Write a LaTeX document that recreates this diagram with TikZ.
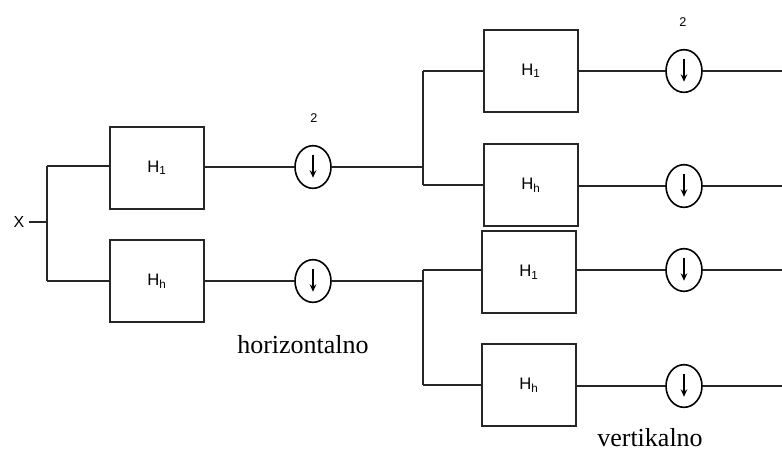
\documentclass[tikz,border=0pt]{standalone}
\usepackage{fontspec}
\setmainfont{Liberation Serif}
\newfontfamily\labelfont{Liberation Sans}
\usetikzlibrary{shapes.geometric,arrows.meta}
\begin{document}
\begin{tikzpicture}[x=0.75pt,y=-0.75pt,
  wire/.style={line width=1.4pt, draw=black!85},
  filt/.style={draw=black!85, line width=1.4pt, minimum width=70.5pt,
    minimum height=61.5pt, inner sep=0pt,
    font=\labelfont\fontsize{12.5}{14}\selectfont},
  down/.style={ellipse, draw=black, line width=1.2pt, minimum width=27pt,
    minimum height=32pt, inner sep=0pt,
    path picture={\draw[line width=1.4pt,-{Stealth[length=5.5pt,width=5pt]}]
      ([yshift=9pt]path picture bounding box.center) --
      ([yshift=-8pt]path picture bounding box.center);}},
  small/.style={font=\labelfont\fontsize{9.5}{11}\selectfont, inner sep=0pt},
  caption/.style={font=\fontsize{19.5}{22}\selectfont, inner sep=0pt, anchor=base}]
\useasboundingbox (0,0) rectangle (782,451);

% input and first split
\node[small, font=\labelfont\fontsize{12}{14}\selectfont] (x) at (19,222) {X};
\coordinate (s0) at (47,222);
\coordinate (s0t) at (47,166);
\coordinate (s0b) at (47,281);

% first level
\node[filt] (a1) at (157,168) {H\textsubscript{1}};
\node[filt] (a2) at (157,281) {H\textsubscript{h}};
\node[down] (d1) at (313,167) {};
\node[down] (d2) at (313,281) {};
\node[small] (n1) at (314,118) {2};

% second level split points
\coordinate (j1) at (423,167);
\coordinate (j1t) at (423,71);
\coordinate (j1b) at (423,185);
\coordinate (j2) at (423,281);
\coordinate (j2t) at (423,270);
\coordinate (j2b) at (423,385);

% second level
\node[filt] (b1) at (531,71) {H\textsubscript{1}};
\node[filt] (b2) at (531,185) {H\textsubscript{h}};
\node[filt] (b3) at (529,272) {H\textsubscript{1}};
\node[filt] (b4) at (529,385) {H\textsubscript{h}};
\node[down] (e1) at (684,71) {};
\node[down] (e2) at (684,186) {};
\node[down] (e3) at (684,270) {};
\node[down] (e4) at (684,386) {};
\node[small] (n2) at (683,22) {2};

\coordinate (o1) at (782,71);
\coordinate (o2) at (782,186);
\coordinate (o3) at (782,270);
\coordinate (o4) at (782,386);

% wires
\draw[wire] (x.east) ++(3pt,0) -- (s0);
\draw[wire] (s0t) -- (s0b);
\draw[wire] (s0t) -- (s0t -| a1.west);
\draw[wire] (s0b) -- (a2.west);
\draw[wire] (a1.east |- d1) -- (d1.west);
\draw[wire] (a2.east) -- (d2.west);
\draw[wire] (d1.east) -- (j1);
\draw[wire] (d2.east) -- (j2);
\draw[wire] (j1t) -- (j1b);
\draw[wire] (j2t) -- (j2b);
\draw[wire] (j1t) -- (b1.west);
\draw[wire] (j1b) -- (b2.west);
\draw[wire] (j2t) -- (j2t -| b3.west);
\draw[wire] (j2b) -- (b4.west);
\draw[wire] (b1.east) -- (e1.west);
\draw[wire] (b2.east |- e2) -- (e2.west);
\draw[wire] (b3.east |- e3) -- (e3.west);
\draw[wire] (b4.east |- e4) -- (e4.west);
\draw[wire] (e1.east) -- (o1);
\draw[wire] (e2.east) -- (o2);
\draw[wire] (e3.east) -- (o3);
\draw[wire] (e4.east) -- (o4);

% captions
\node[caption] (hz) at (303,353) {horizontalno};
\node[caption] (vt) at (650,446) {vertikalno};
\end{tikzpicture}
\end{document}
